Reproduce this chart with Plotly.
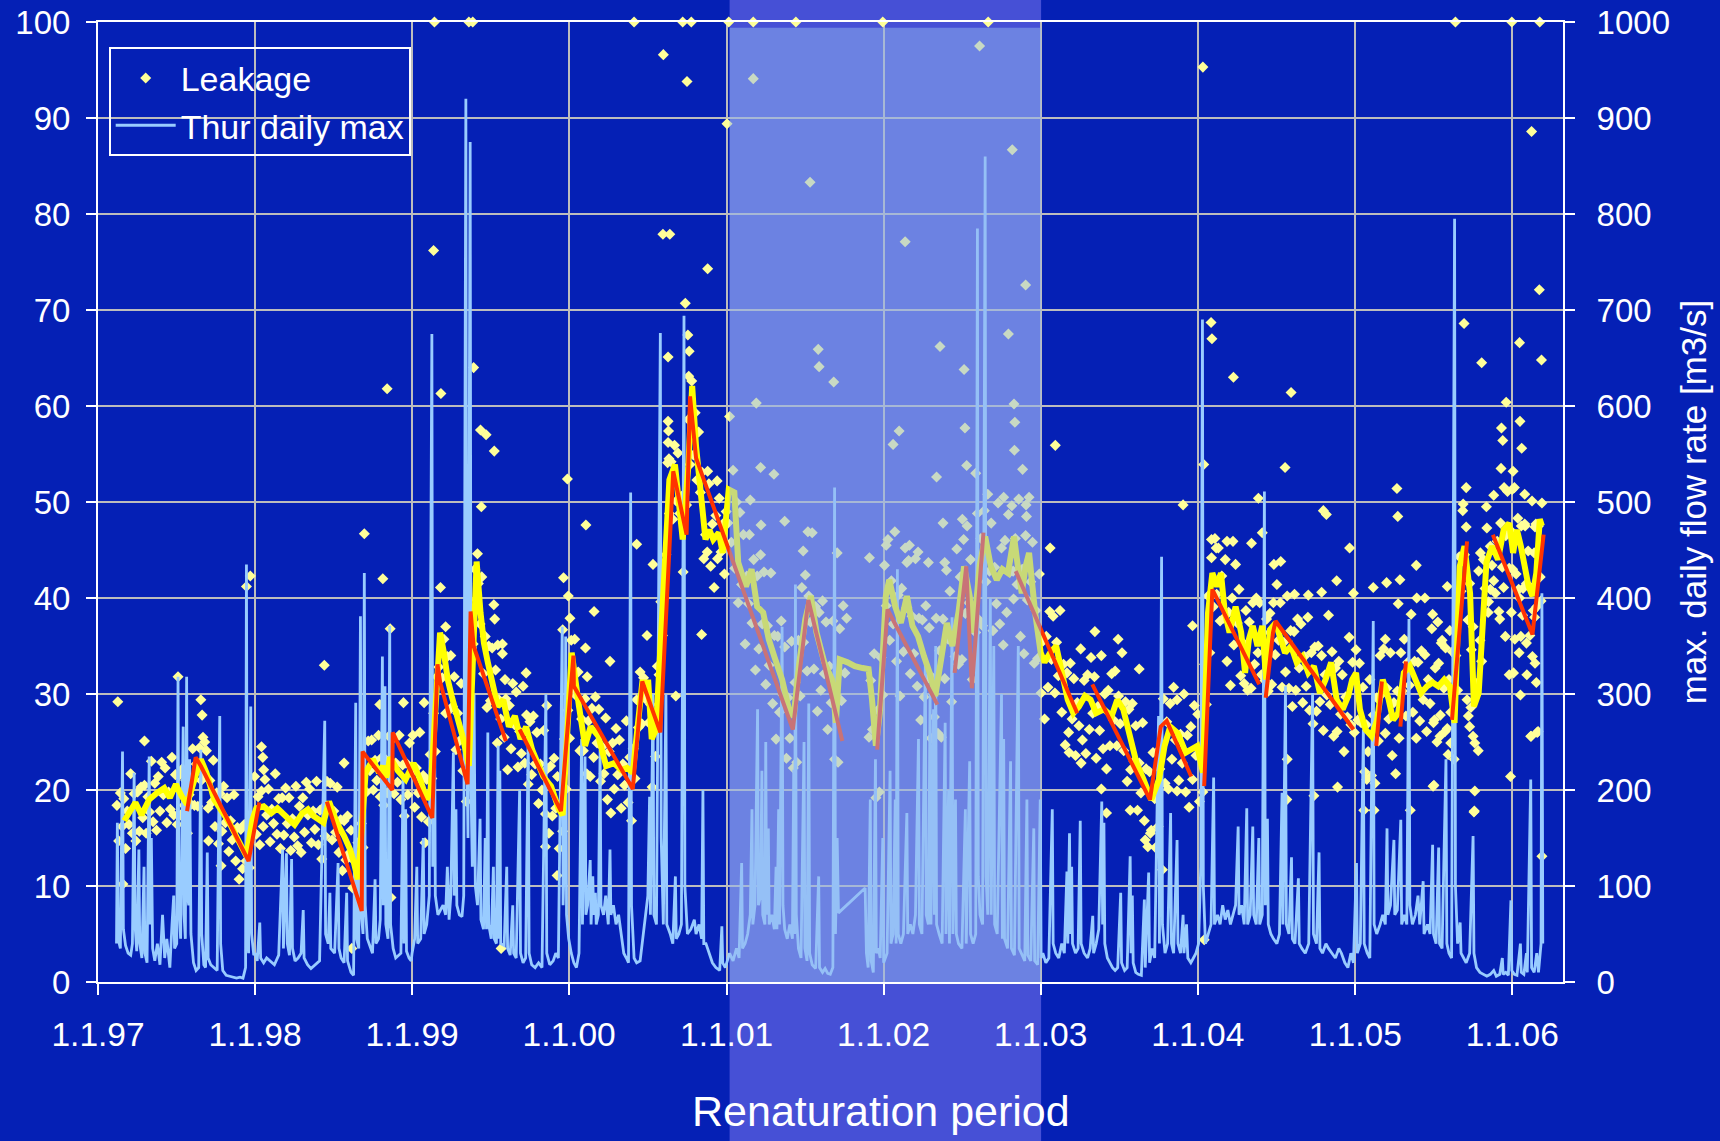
import datetime as dt
import plotly.graph_objects as go

# ---------------------------------------------------------------- data
# Day numbers count from 1 Jan 1997.
START = dt.date(1997, 1, 1)

YEAR_TICKS = [0, 365, 730, 1095, 1461, 1826, 2191, 2556, 2922, 3287]
YEAR_LABELS = ["1.1.97", "1.1.98", "1.1.99", "1.1.00", "1.1.01",
               "1.1.02", "1.1.03", "1.1.04", "1.1.05", "1.1.06"]

# Leakage [l/s], one reading every 4 days from day 44 (None = no reading)
LEAK_STEP_START = 44
LEAK_STEP_DAYS = 4
LEAKAGE_4DAY = [
    18.4, 14.7, 19.7, 16.2, 19.1, 13.9, 17.8, 16.4, 21.7, 15.5, 19.6, 14.7,
    19.8, 15.7, 20.3, 17.1, 20.5, 15.5, 19.3, 17.7, 23.0, 16.7, 20.7, 15.8,
    21.4, 17.8, 22.9, 19.5, 22.3, 16.6, 19.8, 18.0, 23.4, 17.4, 21.6, 16.4,
    21.5, 17.4, 22.2, 18.4, 21.0, 15.5, 19.5, 18.5, 24.3, 18.4, 22.7, 18.3,
    24.4, 21.0, 25.5, 21.6, 24.1, 18.1, 21.0, 18.7, 23.1, 16.2, 19.7, 14.4,
    19.6, 15.7, 20.4, 16.6, 19.2, 13.6, 16.8, 14.8, 19.5, 12.6, 16.1, 10.7,
    15.9, 11.8, 16.4, 12.6, 16.3, 11.9, 16.5, 15.7, 21.4,
    15.4, 19.3, 14.3, 19.9, 16.2, 21.1, 17.4, 20.1, 14.6, 18.0, 16.5, 21.7,
    15.4, 19.1, 13.9, 19.2, 15.3, 20.2, 16.5, 19.2, 13.7, 17.0, 15.1, 20.4,
    14.2, 18.3, 13.5, 19.2, 15.6, 20.8, 17.4, 20.1, 14.5, 17.8, 15.9, 20.9,
    14.3, 17.9, 12.8, 18.2, 15.2, 20.9, 18.1, 20.7, 14.8, 17.8, 15.6, 20.3,
    13.5, 16.9, 11.6, 16.8, 12.7, 17.3, 13.4, 15.8, 9.8, 12.6, 10.2, 14.5,
    10.3, 16.5, 14.0, 22.1, 19.8, 25.1, 22.0, 25.2, 20.0, 23.1, 21.0, 25.7,
    19.3, 23.4, 18.4, 23.2, 19.7, 25.6, 22.7, 25.3, 19.6, 22.8, 20.8, 25.7,
    19.0, 22.6, 17.3, 22.8, 19.5, 24.9, 21.8,
    25.7, 18.2, 22.3, 19.7, 26.0, 17.2, 21.5, 14.5, 21.1, 16.7, 23.7, 21.2,
    28.0, 24.0, 31.8, 32.8, 41.1, 31.7, 35.7, 28.0, 33.9, 28.3, 34.0, 28.7,
    31.8, 24.2, 28.0, 25.1, 31.1, 22.0, 26.1, 18.8, 25.0, 22.9, 34.8, 35.2,
    43.0, 39.8, 41.5, 37.3, 42.2, 32.1, 36.0, 28.6, 35.0, 29.3, 34.8, 29.3,
    32.5, 24.9, 29.4, 27.4, 34.2, 25.5, 29.5, 22.1, 28.8, 24.3, 31.1, 26.8,
    30.2, 22.4, 26.1, 23.8, 30.8, 22.8, 27.8, 20.6, 27.1, 21.6, 27.7, 22.7,
    26.0, 18.6, 22.7, 20.0, 26.2, 17.5, 22.2, 15.5, 22.5, 17.3, 23.3, 18.1,
    21.4, 13.9, 18.2, 15.7, 25.3, 20.1, 28.3,
    25.4, 35.6, 30.6, 35.7, 29.8, 32.3, 24.1, 27.4, 24.1, 29.5, 21.7, 27.2,
    21.4, 28.5, 23.4, 29.7, 24.9, 28.4, 20.9, 24.5, 21.7, 27.5, 19.0, 24.0,
    17.6, 24.9, 20.1, 26.4, 21.6, 25.2, 18.1, 22.7, 20.5, 27.2, 18.7, 23.4,
    16.8, 24.3, 21.2, 29.4, 26.5, 32.3, 26.9, 31.7, 29.5, 36.1, 27.0, 28.9,
    20.3, 27.9, 23.5, 32.9, 32.0, 39.6, 36.1, 43.7, 44.5, 54.1, 48.8, 54.2,
    48.2, 55.9, 50.1, 55.1, 48.8, 50.6, 42.7, 49.5, 49.7, 58.6, 53.9, 62.6,
    54.9, 59.3, 52.3, 57.3, 51.0, 53.1, 44.1, 46.6, 44.8, 51.9, 43.3, 47.7,
    41.1, 48.6, 44.1, 50.4, 44.8, 47.7, 42.5, 49.0,
    47.8, 58.9, 45.8, 53.3, 43.1, 50.0, 39.5, 48.9, 41.4, 46.6, 35.2, 42.3,
    39.4, 50.2, 37.4, 44.0, 32.5, 42.3, 34.7, 44.5, 37.3, 42.7, 31.0, 37.1,
    33.0, 42.6, 29.0, 36.1, 25.3, 36.0, 28.1, 37.6, 29.9, 34.9, 23.3, 29.6,
    25.4, 35.5, 22.3, 31.2, 22.9, 35.6, 29.8, 41.1, 35.4, 42.4, 32.4, 40.2,
    37.5, 46.8, 32.6, 39.1, 28.2, 38.5, 30.4, 39.7, 32.1, 37.5, 26.3, 32.9,
    29.1, 37.6, 23.2, 29.9, 22.9, 36.8, 29.3, 39.2, 32.2, 37.9,
    None, None, None, None, None, None, None, None, None, None, None, None,
    25.5, 31.4, 26.3, 34.2, 19.2, 28.3, 19.8, 33.8, 29.9, 43.4, 39.2, 46.1,
    35.6, 41.8, 37.3, 46.9, 33.4, 40.3, 29.8, 41.0, 34.4, 45.2, 39.0, 43.9,
    32.1, 38.1, 34.2, 44.1, 30.8, 37.9, 27.3, 37.7, 29.7, 39.2, 31.6, 36.9,
    25.4, 31.7, 27.6, 37.9, 25.9, 34.5, 25.5, 37.8, 31.6, 42.9, 35.7, 40.7,
    29.2, 36.3, 33.9, 45.1, 33.1, 42.2, 33.6, 46.1, 38.4, 47.5, 39.5, 44.0,
    31.5, 37.7, 36.4, 48.8, 37.7, 46.2, 37.1, 49.1, 41.7, 50.8, 42.8, 47.8,
    36.6, 43.2, 39.4, 49.9, 37.3, 45.2, 35.1, 46.0, 38.5, 48.7, 42.7, 49.6,
    39.9, 46.2, 41.4, 50.3, 36.0, 43.0, 34.2, 46.5, 39.8, 50.5, 41.7, 45.8,
    33.2, 38.7, 33.7, 42.5,
    30.1, 35.5, 27.4, 36.0, 30.7, 38.6, 33.6, 38.1, 30.1, 35.4, 31.9, 38.7,
    28.1, 33.1, 24.7, 32.2, 26.0, 33.2, 27.4, 31.6, 23.6, 29.1, 26.7, 34.7,
    25.2, 31.4, 23.8, 32.0, 26.3, 33.8, 28.0, 31.8, 23.3, 28.7, 26.2, 34.0,
    24.3, 30.0, 22.2, 30.4, 24.6, 32.1, 27.3, 32.4, 24.6, 29.8, 26.9, 34.3,
    24.1, 29.2, 20.9, 28.4, 22.1, 29.0, 23.0, 26.7, 17.9, 22.8, 19.7, 27.0,
    16.8, 22.2, 14.1, 21.9, 15.8, 23.9, 19.1, 23.9, 16.2, 22.2, 20.7, 29.5,
    20.7, 27.1, 20.1, 29.0, 23.2, 30.7, 25.2, 29.4, 21.0, 25.8, 22.8, 30.0,
    19.8, 25.7, 18.2, 26.6, 21.1, 28.8, 23.6, 27.9, 18.8, 23.3, 19.8, 33.1,
    28.9, 40.2, 34.3, 44.2, 39.1, 46.2, 40.4, 45.2, 37.6, 42.3, 37.9, 44.0,
    33.4, 38.5, 30.9, 40.0, 35.1, 43.5, 37.4, 40.9, 31.9, 35.4, 31.1, 38.7,
    30.4, 37.5, 30.6, 39.5, 33.1, 40.0, 34.3, 39.5, 32.0, 36.4, 31.4, 37.8,
    30.3, 38.4, 31.0, 39.5, 34.1, 41.4, 35.6, 39.5, 30.7, 35.4, 32.3, 40.2,
    30.6, 36.6, 28.7, 36.5, 30.4, 37.8, 32.7, 37.3, 29.1, 33.9, 30.8, 38.0,
    28.3, 34.3, 26.9, 34.9, 28.2, 35.0, 29.2, 34.0, 26.2, 32.0, 29.9, 38.2,
    28.9, 34.4, 25.6, 32.7, 26.1, 33.4, 27.9, 32.0, 24.0, 29.7, 27.6, 35.9,
    26.8, 33.3, 26.0, 34.6, 27.3, 33.2, 27.0, 30.7, 21.9, 26.8, 24.0, 31.5,
    21.5, 27.8, 20.7, 29.6, 25.1, 34.0, 30.0, 34.7, 25.9, 30.6, 27.4, 34.3,
    23.6, 29.1, 21.7, 30.3, 25.4, 34.3, 30.3, 35.7, 27.7, 33.3, 30.9, 38.3,
    28.1, 33.4, 25.4, 33.3, 27.2, 34.5, 29.4, 34.1, 26.1, 31.5, 29.0, 36.8,
    27.0, 32.7, 25.0, 33.2, 27.8, 35.6, 30.6, 34.8, 26.4, 31.5, 28.1, 34.4,
    23.2, 34.0, 30.4, 44.3, 40.7, 49.1, 44.5, 47.4, 37.7, 41.5, 34.6, 37.0,
    24.9, 31.1, 24.1, 35.6, 33.4, 44.0, 41.0, 47.3, 39.6, 45.4, 43.4, 50.7,
    40.5, 45.9, 38.6, 47.8, 43.2, 51.5, 46.5, 51.1, 43.1, 47.0, 43.0, 51.5,
    42.5, 48.3, 40.0, 47.5, 41.0, 47.7, 41.5, 44.9, 36.1, 41.0, 38.7, 47.4,
    39.1, 47.5, 42.2, 49.9,
]

# Single leakage readings away from the main cloud (day, l/s); 100 = off scale
LEAKAGE_SINGLE = [
    (46, 29.2), (58, 10.2), (108, 25.1), (186, 31.8), (239, 29.4), (242, 27.8),
    (248, 25.0), (257, 14.7), (286, 12.1), (345, 41.2), (354, 42.3), (380, 24.5),
    (383, 23.4), (385, 22.1), (526, 33.0), (572, 22.8), (590, 3.5), (619, 46.7),
    (655, 28.9), (662, 42.0), (672, 61.8), (679, 36.8), (681, 8.8), (710, 29.1),
    (758, 29.1), (780, 76.2), (782, 100), (797, 61.3), (808, 37.0), (862, 100),
    (871, 100), (873, 64.0), (882, 44.6), (889, 57.5), (891, 49.5), (902, 57.0),
    (920, 39.3), (921, 55.3), (922, 37.8), (929, 35.1), (937, 3.5), (940, 35.2),
    (946, 31.5), (995, 32.2), (1040, 14.1), (1043, 28.8), (1067, 11.1),
    (1080, 36.7), (1082, 42.1), (1091, 52.4), (1093, 40.2), (1097, 37.9),
    (1133, 34.8), (1134, 47.6), (1137, 31.8), (1153, 38.6), (1190, 33.4),
    (1246, 100), (1252, 45.6), (1290, 43.5), (1313, 77.9), (1314, 96.6),
    (1325, 58.4), (1325, 56.2), (1326, 57.4), (1327, 54.5), (1329, 77.9),
    (1343, 29.8), (1359, 100), (1365, 70.7), (1369, 93.8), (1371, 67.4),
    (1373, 63.1), (1374, 65.7), (1325, 65.1), (1379, 100), (1403, 36.2),
    (1417, 53.2), (1417, 74.3), (1439, 52.2),
    (1462, 89.4), (1466, 100), (1514, 46.6), (1523, 100), (1523, 94.1),
    (1530, 60.3), (1540, 53.6), (1541, 47.6), (1571, 52.9), (1596, 48.0),
    (1622, 100), (1639, 44.9), (1650, 46.9), (1655, 83.3), (1674, 65.9),
    (1676, 64.1), (1710, 62.5), (1718, 44.7), (1793, 44.2), (1824, 100),
    (1832, 45.5), (1848, 56.0), (1862, 57.4), (1876, 77.1), (1880, 43.7),
    (1886, 45.5), (1906, 44.8), (1930, 43.7), (1949, 52.6), (1957, 66.2),
    (1964, 47.8), (1968, 43.7), (2009, 48.2), (2013, 63.8), (2015, 57.7),
    (2019, 53.8), (2040, 53.0), (2049, 97.5), (2069, 100), (2105, 50.5),
    (2116, 67.5), (2125, 86.7), (2127, 42.8), (2129, 60.2), (2130, 55.4),
    (2131, 58.3), (2149, 53.4), (2156, 72.6), (2157, 49.7), (2158, 48.5),
    (2213, 45.2), (2225, 55.9), (2257, 23.9), (2285, 22.8), (2317, 36.5),
    (2332, 20.1), (2344, 17.6), (2371, 35.7), (2399, 17.9), (2420, 32.6),
    (2434, 14.8), (2446, 15.5), (2458, 14.0), (2474, 11.7), (2508, 19.9),
    (2522, 49.7), (2544, 37.1), (2568, 95.3), (2570, 53.9), (2571, 4.4),
    (2587, 68.7), (2588, 46.1), (2589, 67.0), (2599, 45.2), (2624, 45.9),
    (2638, 45.9), (2639, 63.0), (2681, 45.7), (2697, 50.4), (2706, 46.8),
    (2733, 43.5), (2749, 43.8), (2759, 53.6), (2763, 19.0), (2764, 23.2),
    (2773, 61.4), (2781, 40.4), (2813, 40.3), (2826, 19.4), (2844, 40.6),
    (2848, 49.1), (2855, 48.7), (2879, 41.8), (2881, 20.3), (2909, 45.2),
    (2918, 40.5), (2942, 17.9), (2949, 21.1), (2964, 41.1), (2966, 17.9),
    (2992, 35.7), (2995, 41.6), (3019, 51.4), (3021, 48.5), (3022, 39.4),
    (3026, 41.9), (3050, 17.9), (3064, 43.4), (3065, 40.0), (3084, 40.0),
    (3102, 38.3), (3103, 20.4), (3105, 20.5), (3106, 27.3), (3114, 37.5),
    (3119, 25.6), (3122, 35.3), (3131, 26.1), (3136, 41.2), (3138, 23.7),
    (3142, 36.6), (3144, 24.9), (3155, 100), (3173, 49.8), (3175, 68.6),
    (3180, 51.5), (3182, 29.4), (3185, 27.7), (3188, 26.6), (3191, 28.6),
    (3196, 25.6), (3198, 17.7), (3199, 17.8), (3200, 19.9), (3209, 42.8),
    (3213, 44.7), (3216, 64.5), (3227, 49.5), (3231, 38.5), (3236, 40.9),
    (3244, 41.8), (3258, 37.8), (3261, 53.5), (3262, 57.7), (3265, 56.4),
    (3267, 41.1), (3271, 36.0), (3273, 60.4), (3280, 32.0), (3283, 21.4),
    (3285, 38.5), (3286, 100), (3287, 51.3), (3289, 53.2), (3290, 32.2),
    (3293, 35.7), (3302, 40.9), (3303, 34.3), (3304, 66.6), (3305, 58.4),
    (3306, 29.9), (3307, 36.0), (3309, 55.6), (3311, 38.2), (3316, 50.8),
    (3317, 47.5), (3320, 35.3), (3321, 32.0), (3330, 25.6), (3331, 25.6),
    (3332, 88.6), (3333, 50.1), (3334, 33.9), (3338, 44.7), (3339, 38.0),
    (3340, 33.2), (3342, 47.7), (3343, 31.2), (3345, 26.0), (3347, 26.1),
    (3350, 72.1), (3351, 100), (3354, 39.7), (3355, 64.8), (3356, 13.1),
]

# Smoothed leakage (day, l/s)
LEAKAGE_SMOOTH = [
    (61, 16.8), (74, 17.8), (87, 18.7), (101, 17.4), (119, 19.0), (137, 19.7),
    (154, 20.2), (167, 19.2), (181, 20.6), (194, 19.4), (207, 18.5), (227, 21.5),
    (239, 23.2), (252, 21.8), (270, 19.0), (305, 16.6), (332, 14.3), (345, 13.1),
    (359, 16.9), (368, 18.1), (385, 18.3), (403, 17.6), (417, 18.1), (435, 17.3),
    (457, 16.4), (475, 17.6), (488, 18.0), (501, 17.3), (524, 16.6), (537, 18.8),
    (555, 16.6), (572, 15.2), (586, 13.8), (595, 12.4), (604, 10.7), (613, 15.9),
    (622, 21.8), (639, 23.2), (653, 21.8), (662, 22.5), (670, 21.3), (679, 23.4),
    (697, 22.0), (715, 21.1), (733, 22.8), (751, 20.8), (764, 19.0), (773, 20.0),
    (795, 36.4), (804, 34.3), (813, 31.5), (822, 29.8), (835, 27.7), (849, 25.3),
    (862, 22.5), (871, 35.0), (880, 43.8), (889, 38.5), (897, 35.3), (906, 33.3),
    (920, 30.1), (929, 28.7), (942, 29.4), (955, 26.6), (969, 27.7), (982, 25.3),
    (995, 26.6), (1009, 24.2), (1022, 22.8), (1035, 21.4), (1053, 20.4),
    (1071, 18.0), (1080, 17.4), (1101, 34.3), (1118, 28.7), (1132, 24.6),
    (1145, 26.6), (1163, 25.6), (1181, 22.5), (1199, 22.8), (1216, 22.1),
    (1230, 22.3), (1243, 21.8), (1257, 27.7), (1265, 31.2), (1279, 31.2),
    (1287, 25.3), (1297, 26.3), (1310, 38.5), (1328, 52.3), (1341, 53.9),
    (1350, 50.6), (1359, 46.1), (1372, 53.7), (1381, 62.1), (1390, 55.8),
    (1403, 50.6), (1412, 46.1), (1421, 47.1), (1430, 46.1), (1443, 46.8),
    (1452, 44.7), (1466, 51.3), (1479, 51.0), (1488, 43.7), (1506, 41.2),
    (1519, 43.0), (1532, 39.1), (1546, 38.5), (1559, 35.7), (1572, 33.9),
    (1590, 31.5), (1608, 28.0), (1617, 27.7), (1630, 33.3), (1644, 37.8),
    (1657, 40.2), (1670, 36.4), (1688, 33.3), (1706, 31.5), (1715, 27.0),
    (1724, 33.6), (1742, 33.3), (1759, 32.9), (1777, 32.7), (1791, 32.6),
    (1799, 29.4), (1808, 24.6), (1817, 28.0), (1831, 40.2), (1839, 41.9),
    (1853, 39.1), (1866, 37.4), (1880, 40.2), (1893, 37.1), (1906, 36.0),
    (1920, 33.9), (1933, 32.2), (1946, 29.8), (1960, 33.3), (1973, 37.4),
    (1986, 35.0), (2000, 38.5), (2013, 43.3), (2026, 40.2), (2035, 36.4),
    (2049, 43.3), (2062, 46.4), (2075, 43.3), (2089, 41.9), (2102, 43.0),
    (2115, 42.6), (2129, 46.4), (2138, 43.3), (2147, 40.5), (2156, 43.3),
    (2164, 44.7), (2178, 38.5), (2191, 34.3), (2200, 33.3), (2213, 34.3),
    (2227, 35.0), (2240, 32.2), (2254, 29.4), (2267, 28.0), (2280, 28.7),
    (2294, 29.8), (2307, 29.4), (2320, 28.0), (2338, 28.4), (2356, 27.7),
    (2369, 29.4), (2383, 28.4), (2400, 25.3), (2414, 22.8), (2430, 21.1),
    (2448, 19.0), (2466, 21.1), (2479, 24.6), (2492, 26.6), (2510, 25.9),
    (2528, 23.9), (2541, 24.2), (2555, 24.6), (2568, 21.8), (2580, 38.5),
    (2590, 42.6), (2601, 41.2), (2610, 42.6), (2619, 38.5), (2630, 36.4),
    (2644, 39.1), (2657, 36.4), (2666, 32.2), (2675, 35.7), (2684, 37.1),
    (2695, 35.0), (2706, 37.1), (2715, 31.5), (2724, 36.7), (2737, 37.4),
    (2750, 35.7), (2759, 34.3), (2773, 35.0), (2786, 33.3), (2799, 33.9),
    (2813, 32.2), (2826, 32.9), (2840, 30.1), (2853, 31.5), (2866, 33.3),
    (2879, 29.4), (2893, 28.4), (2906, 29.8), (2915, 31.5), (2924, 32.2),
    (2933, 28.4), (2946, 26.3), (2960, 25.6), (2973, 27.3), (2986, 31.5),
    (3000, 29.4), (3010, 27.3), (3022, 28.0), (3035, 32.2), (3049, 32.9),
    (3062, 31.5), (3075, 30.1), (3089, 30.8), (3102, 31.2), (3115, 30.8),
    (3129, 31.5), (3142, 30.8), (3153, 27.0), (3165, 43.3), (3176, 45.4),
    (3189, 40.5), (3198, 28.7), (3209, 30.1), (3218, 38.5), (3227, 43.7),
    (3240, 45.4), (3254, 44.0), (3267, 47.1), (3280, 47.8), (3289, 44.7),
    (3298, 47.1), (3307, 45.4), (3316, 43.3), (3325, 41.2), (3334, 40.2),
    (3343, 42.6), (3351, 48.2), (3356, 47.5),
]

# Leakage trend between pipe interventions (day, l/s); None breaks the line
LEAKAGE_TREND = [
    (207, 17.8), (227, 23.4), (239, 22.5), (350, 12.6), (375, 18.7), None,
    (532, 18.8), (613, 7.4), (615, 24.0), (684, 20.0), (685, 26.0), (777, 17.1),
    (789, 33.1), (795, 31.3), (859, 20.6), (866, 38.6), (873, 35.0), (948, 25.1),
    None,
    (980, 26.3), (1076, 17.8), (1105, 34.0), (1106, 30.8), (1243, 20.1),
    (1265, 31.3), (1307, 26.0), (1337, 53.2), (1368, 46.6), (1376, 61.0),
    (1390, 54.6), (1461, 45.7), (1615, 26.3), (1651, 39.8), (1730, 25.1), None,
    (1811, 24.2), (1835, 38.8), (1951, 28.9), None,
    (1991, 32.2), (2018, 43.3), (2031, 30.6), (2058, 46.8), None,
    (2133, 42.8), (2276, 28.0), None,
    (2311, 31.0), (2445, 19.0), (2470, 26.6), (2484, 27.2), (2541, 21.4), None,
    (2571, 20.4), (2590, 40.9), (2699, 31.0), None,
    (2714, 29.6), (2731, 36.4), (2737, 37.6), (2918, 26.3), None,
    (2971, 24.6), (2984, 31.3), None,
    (3027, 26.6), (3040, 33.4), None,
    (3147, 27.3), (3182, 45.9), None,
    (3242, 46.6), (3334, 36.2), (3360, 46.6),
]

# Thur river, maximum daily discharge (day, m3/s)
THUR_DAILY_MAX = [
    (43, 40), (45, 166), (47, 45), (52, 35), (57, 240), (59, 55), (64, 38),
    (70, 30), (76, 28), (80, 40), (84, 218), (86, 60), (90, 32), (95, 138),
    (97, 40), (102, 25), (107, 120), (109, 30), (114, 20), (119, 235), (121, 60),
    (124, 150), (127, 35), (132, 22), (138, 40), (144, 18), (150, 70), (155, 25),
    (160, 45), (167, 15), (172, 60), (176, 90), (178, 35), (183, 40), (186, 318),
    (188, 80), (192, 45), (195, 170), (198, 266), (200, 70), (203, 45),
    (206, 318), (208, 90), (211, 80), (213, 232), (216, 50), (222, 20), (228, 12),
    (234, 15), (239, 242), (241, 50), (246, 18), (250, 15), (254, 135), (256, 25),
    (262, 18), (270, 15), (277, 12), (283, 277), (285, 40), (290, 12), (298, 7),
    (306, 6), (314, 5), (322, 4), (330, 5), (337, 4), (343, 15), (345, 435),
    (347, 50), (350, 30), (355, 287), (357, 50), (362, 28),
    (365, 30), (370, 22), (376, 62), (378, 25), (385, 20), (392, 25), (400, 22),
    (410, 18), (420, 28), (429, 138), (431, 35), (438, 134), (440, 40), (445, 28),
    (450, 128), (452, 35), (458, 22), (465, 25), (472, 30), (477, 75), (479, 25),
    (487, 18), (495, 14), (505, 18), (515, 22), (527, 272), (529, 50), (535, 40),
    (539, 93), (541, 35), (550, 30), (558, 124), (560, 35), (565, 25), (572, 20),
    (578, 93), (580, 22), (588, 10), (594, 7), (599, 291), (601, 45), (606, 35),
    (610, 381), (612, 70), (616, 50), (619, 426), (621, 80), (626, 45), (633, 35),
    (638, 30), (644, 107), (646, 40), (652, 45), (656, 65), (661, 339), (663, 80),
    (667, 308), (669, 60), (674, 45), (678, 371), (680, 60), (686, 35), (692, 25),
    (698, 28), (704, 30), (709, 214), (711, 40), (715, 180), (717, 32), (723, 25),
    (728, 22),
    (730, 30), (736, 45), (741, 120), (743, 40), (750, 45), (756, 150), (758, 50),
    (764, 60), (770, 90), (776, 675), (778, 120), (782, 300), (784, 90), (790, 70),
    (796, 75), (802, 80), (808, 70), (812, 120), (816, 65), (820, 90), (826, 239),
    (828, 90), (832, 180), (834, 80), (840, 70), (846, 68), (850, 90), (855, 920),
    (857, 250), (860, 150), (865, 875), (867, 200), (870, 120), (874, 300),
    (877, 100), (882, 80), (888, 170), (890, 65), (896, 55), (900, 150), (903, 55),
    (906, 260), (908, 60), (914, 45), (919, 120), (921, 45), (926, 40), (930, 246),
    (932, 45), (934, 220), (936, 40), (944, 38), (950, 120), (952, 35), (958, 28),
    (964, 80), (966, 30), (972, 25), (980, 200), (982, 30), (988, 20), (994, 25),
    (1000, 260), (1002, 30), (1008, 18), (1016, 15), (1024, 20), (1032, 15),
    (1041, 300), (1043, 30), (1050, 18), (1058, 22), (1064, 30), (1070, 25),
    (1079, 370), (1081, 80), (1085, 150), (1087, 360), (1089, 70), (1094, 45),
    (1100, 30), (1106, 20), (1112, 15), (1118, 30), (1124, 253), (1126, 60),
    (1132, 235), (1134, 70), (1138, 80), (1144, 127), (1146, 60), (1150, 110),
    (1152, 70), (1156, 93), (1158, 60), (1163, 70), (1167, 242), (1169, 80),
    (1175, 70), (1180, 90), (1186, 60), (1190, 138), (1192, 70), (1198, 80),
    (1204, 60), (1210, 70), (1216, 50), (1222, 30), (1228, 25), (1233, 20),
    (1238, 510), (1240, 80), (1246, 25), (1252, 20), (1260, 22), (1278, 90),
    (1282, 193), (1284, 70), (1290, 300), (1292, 70), (1298, 60), (1307, 676),
    (1309, 150), (1314, 60), (1320, 300), (1322, 60), (1330, 50), (1336, 40),
    (1342, 110), (1344, 45), (1350, 50), (1356, 60), (1362, 694), (1364, 100),
    (1370, 50), (1378, 55), (1386, 65), (1390, 50), (1397, 60), (1403, 45),
    (1406, 200), (1408, 40), (1413, 40), (1420, 30), (1428, 20), (1436, 15),
    (1445, 12), (1450, 58), (1452, 20), (1458, 15),
    (1461, 20), (1468, 30), (1476, 22), (1484, 35), (1490, 25), (1496, 124),
    (1498, 35), (1504, 40), (1510, 50), (1516, 70), (1520, 180), (1522, 60),
    (1527, 80), (1533, 284), (1535, 80), (1540, 90), (1543, 220), (1545, 70),
    (1550, 60), (1552, 250), (1554, 70), (1558, 160), (1560, 60), (1566, 70),
    (1572, 55), (1576, 120), (1578, 55), (1582, 180), (1584, 60), (1590, 370),
    (1592, 80), (1596, 55), (1602, 45), (1608, 60), (1614, 45), (1617, 221),
    (1619, 50), (1621, 414), (1623, 70), (1628, 35), (1634, 25), (1641, 250),
    (1643, 35), (1648, 22), (1652, 290), (1654, 30), (1660, 18), (1668, 14),
    (1675, 110), (1677, 15), (1684, 10), (1690, 14), (1696, 9), (1702, 8),
    (1708, 15), (1712, 515), (1714, 50), (1718, 150), (1721, 72), (1783, 98),
    (1786, 30), (1790, 15), (1795, 190), (1797, 22), (1802, 10), (1807, 232),
    (1809, 30), (1814, 35), (1818, 25), (1824, 150), (1826, 20), (1834, 30),
    (1841, 220), (1843, 40), (1848, 50), (1853, 190), (1855, 40), (1858, 430),
    (1860, 50), (1866, 40), (1872, 50), (1880, 176), (1882, 50), (1888, 60),
    (1894, 50), (1900, 70), (1907, 253), (1909, 60), (1915, 50), (1923, 336),
    (1925, 70), (1930, 60), (1934, 300), (1936, 60), (1942, 284), (1944, 70),
    (1947, 350), (1949, 60), (1955, 50), (1962, 40), (1969, 270), (1971, 50),
    (1977, 200), (1979, 40), (1985, 380), (1987, 50), (1993, 190), (1995, 50),
    (2000, 40), (2008, 35), (2016, 180), (2018, 40), (2026, 230), (2028, 50),
    (2034, 40), (2040, 50), (2044, 785), (2046, 110), (2050, 70), (2056, 60),
    (2062, 860), (2064, 110), (2068, 70), (2074, 400), (2076, 70), (2082, 350),
    (2084, 60), (2090, 50), (2100, 300), (2102, 45), (2105, 253), (2107, 45),
    (2114, 35), (2121, 230), (2123, 35), (2130, 28), (2139, 350), (2141, 35),
    (2148, 28), (2154, 22), (2159, 190), (2161, 28), (2168, 22), (2175, 160),
    (2177, 22), (2184, 18), (2190, 190),
    (2192, 25), (2196, 30), (2203, 20), (2210, 25), (2218, 180), (2220, 40),
    (2226, 30), (2233, 25), (2240, 40), (2246, 30), (2252, 115), (2254, 40),
    (2258, 155), (2260, 50), (2263, 120), (2265, 40), (2272, 30), (2278, 35),
    (2283, 168), (2285, 40), (2292, 30), (2300, 25), (2306, 35), (2312, 69),
    (2314, 30), (2320, 40), (2326, 55), (2333, 188), (2335, 60), (2338, 166),
    (2340, 40), (2346, 25), (2352, 20), (2358, 15), (2364, 12), (2370, 15),
    (2377, 93), (2379, 20), (2386, 12), (2392, 15), (2399, 131), (2401, 30),
    (2404, 90), (2406, 20), (2412, 10), (2418, 8), (2425, 7), (2432, 86),
    (2434, 15), (2442, 114), (2444, 20), (2450, 35), (2456, 25), (2465, 277),
    (2467, 40), (2472, 443), (2474, 60), (2480, 30), (2486, 40), (2493, 176),
    (2495, 40), (2500, 30), (2508, 148), (2510, 40), (2516, 30), (2522, 70),
    (2524, 30), (2530, 60), (2533, 25), (2540, 20), (2546, 25), (2552, 30),
    (2558, 40), (2563, 120), (2567, 690), (2569, 100), (2574, 40), (2580, 50),
    (2587, 60), (2593, 213), (2595, 60), (2602, 70), (2608, 60), (2614, 80),
    (2620, 65), (2626, 75), (2632, 60), (2638, 70), (2644, 80), (2650, 162),
    (2652, 70), (2658, 80), (2664, 60), (2670, 181), (2672, 60), (2678, 70),
    (2684, 162), (2686, 70), (2692, 60), (2698, 150), (2700, 60), (2706, 70),
    (2711, 511), (2713, 80), (2718, 170), (2720, 60), (2726, 50), (2732, 45),
    (2740, 40), (2746, 50), (2752, 197), (2754, 60), (2760, 308), (2762, 60),
    (2768, 50), (2774, 130), (2776, 45), (2782, 40), (2790, 108), (2792, 40),
    (2798, 35), (2806, 30), (2814, 40), (2823, 301), (2825, 50), (2832, 40),
    (2838, 135), (2840, 35), (2846, 30), (2854, 40), (2860, 35), (2868, 30),
    (2876, 25), (2884, 35), (2890, 30), (2898, 20), (2905, 15), (2912, 30),
    (2918, 20), (2925, 124), (2927, 30), (2934, 40), (2941, 263), (2943, 40),
    (2950, 30), (2956, 25), (2964, 376), (2966, 60), (2972, 50), (2980, 60),
    (2986, 70), (2992, 60), (2996, 160), (2998, 70), (3004, 80), (3012, 148),
    (3014, 70), (3020, 75), (3028, 169), (3030, 60), (3036, 70), (3042, 60),
    (3047, 378), (3049, 80), (3055, 60), (3062, 70), (3068, 90), (3072, 60),
    (3080, 105), (3082, 50), (3090, 60), (3096, 50), (3102, 143), (3104, 50),
    (3110, 40), (3116, 140), (3118, 40), (3124, 35), (3133, 232), (3135, 40),
    (3140, 30), (3146, 25), (3153, 795), (3155, 100), (3160, 40), (3166, 62),
    (3168, 30), (3174, 25), (3180, 20), (3188, 30), (3196, 152), (3198, 30),
    (3204, 15), (3212, 10), (3220, 8), (3228, 6), (3236, 8), (3244, 12),
    (3250, 6), (3258, 8), (3264, 25), (3266, 8), (3272, 10), (3278, 7),
    (3284, 85), (3286, 12), (3292, 8), (3298, 7), (3306, 40), (3308, 10),
    (3314, 8), (3320, 30), (3322, 10), (3330, 211), (3332, 15), (3338, 10),
    (3344, 30), (3348, 10), (3354, 40), (3356, 405), (3358, 40),
]

# Renaturation works (day range)
RENATURATION = (1468, 2192)
AXIS_END_DAY = 3405


# ---------------------------------------------------------------- helpers
def to_date(day):
    return None if day is None else START + dt.timedelta(days=day)


def split(pairs):
    xs, ys = [], []
    for p in pairs:
        if p is None:
            xs.append(None)
            ys.append(None)
        else:
            xs.append(to_date(p[0]))
            ys.append(p[1])
    return xs, ys


FONT = "Liberation Sans, Arial, sans-serif"
BG = "#0520B5"
WHITE = "#FFFFFF"
GRID = "#BDBDBD"

leak_x = [to_date(LEAK_STEP_START + LEAK_STEP_DAYS * i) for i in range(len(LEAKAGE_4DAY))]
leak_y = list(LEAKAGE_4DAY)
single_x, single_y = split(LEAKAGE_SINGLE)
leak_x += single_x
leak_y += single_y

smooth_x, smooth_y = split(LEAKAGE_SMOOTH)
trend_x, trend_y = split(LEAKAGE_TREND)
flow_x, flow_y = split(THUR_DAILY_MAX)

# ---------------------------------------------------------------- figure
fig = go.Figure()

fig.add_trace(go.Scatter(
    x=leak_x, y=leak_y, mode="markers", name="Leakage",
    marker=dict(symbol="diamond", size=8.5, color="#FFFF99", line=dict(width=0)),
    cliponaxis=False, legendgroup="a", yaxis="y",
))
fig.add_trace(go.Scatter(
    x=flow_x, y=flow_y, mode="lines", name="Thur daily max",
    line=dict(color="#99CCFF", width=2.8), legendgroup="b", yaxis="y2",
))
fig.add_trace(go.Scatter(
    x=smooth_x, y=smooth_y, mode="lines", showlegend=False,
    line=dict(color="#FFFF00", width=6), yaxis="y3",
))
fig.add_trace(go.Scatter(
    x=trend_x, y=trend_y, mode="lines", showlegend=False, connectgaps=False,
    line=dict(color="#FF3300", width=4), yaxis="y3",
))

tick_dates = [to_date(d) for d in YEAR_TICKS]
band0, band1 = to_date(RENATURATION[0]), to_date(RENATURATION[1])

fig.update_layout(
    width=1720, height=1141,
    margin=dict(l=98, r=157, t=22, b=159, autoexpand=False),
    paper_bgcolor=BG, plot_bgcolor="rgba(0,0,0,0)",
    font=dict(family=FONT, color=WHITE, size=33),
    showlegend=True,
    legend=dict(
        x=0.0073, y=0.9735, xanchor="left", yanchor="top",
        bgcolor="rgba(0,0,0,0)", bordercolor=WHITE, borderwidth=2,
        font=dict(size=34, color=WHITE), itemwidth=60,
        traceorder="grouped", tracegroupgap=0,
    ),
    xaxis=dict(
        type="date", range=[to_date(0), to_date(AXIS_END_DAY)],
        tickmode="array", tickvals=tick_dates, ticktext=YEAR_LABELS,
        showgrid=True, gridcolor=GRID, gridwidth=2,
        showline=True, linecolor=WHITE, linewidth=2, mirror=True,
        ticks="outside", ticklen=11, tickwidth=2, tickcolor=WHITE,
        tickfont=dict(size=33.5, color=WHITE), ticklabelstandoff=11,
        zeroline=False, automargin=False,
    ),
    yaxis=dict(
        range=[0, 100], dtick=10, tick0=0,
        showgrid=True, gridcolor=GRID, gridwidth=2,
        showline=True, linecolor=WHITE, linewidth=2,
        ticks="outside", ticklen=10, tickwidth=2, tickcolor=WHITE,
        tickfont=dict(size=33, color=WHITE), ticklabelstandoff=9,
        zeroline=False, automargin=False,
    ),
    yaxis2=dict(
        range=[0, 1000], dtick=100, tick0=0, overlaying="y", side="right",
        showgrid=False, showline=True, linecolor=WHITE, linewidth=2,
        ticks="outside", ticklen=10, tickwidth=2, tickcolor=WHITE,
        tickfont=dict(size=33, color=WHITE), ticklabelstandoff=15,
        zeroline=False, automargin=False,
        title=dict(text="max. daily flow rate [m3/s]",
                   font=dict(size=35, color=WHITE), standoff=12),
    ),
    yaxis3=dict(range=[0, 100], overlaying="y", visible=False),
    # inner half of the right-hand tick marks
    yaxis4=dict(
        range=[0, 1000], dtick=100, tick0=0, overlaying="y", side="right",
        showgrid=False, showline=False, zeroline=False,
        ticks="inside", ticklen=10, tickwidth=2, tickcolor=WHITE,
        showticklabels=False, automargin=False,
    ),
    shapes=[
        # renaturation period, full height behind the plot
        dict(type="rect", xref="x", yref="paper", x0=band0, x1=band1,
             y0=-0.17, y1=1.03, fillcolor="#4650D6", line=dict(width=0),
             layer="below"),
        # light veil over the data within the renaturation period
        dict(type="rect", xref="x", yref="y", x0=band0, x1=band1,
             y0=0, y1=99.4, fillcolor="rgba(146,180,238,0.5)",
             line=dict(width=0), layer="above"),
    ],
    annotations=[
        dict(text="Renaturation period", xref="x", yref="paper",
             x=to_date(1820), y=-0.1345, xanchor="center", yanchor="middle",
             showarrow=False, font=dict(size=43, color=WHITE)),
    ],
)

fig.write_html("out.html")
